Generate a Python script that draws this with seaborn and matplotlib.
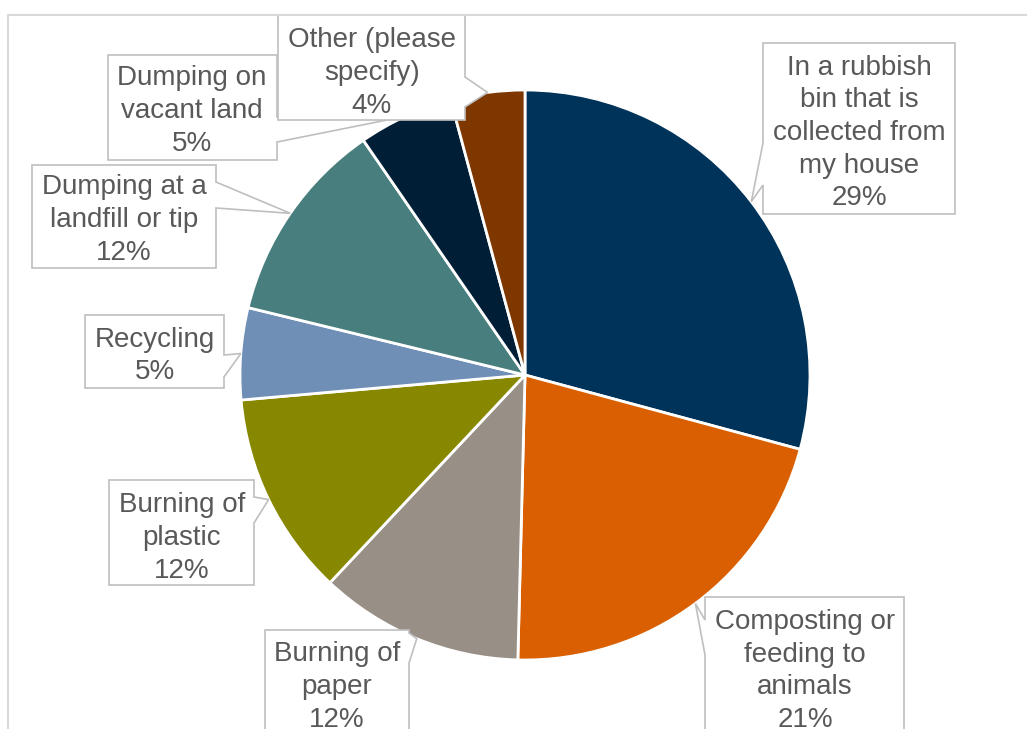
import numpy as np
import matplotlib
matplotlib.use("Agg")
import matplotlib.pyplot as plt
import seaborn as sns
from matplotlib.patches import Polygon
from matplotlib.lines import Line2D

# ---- data ----
categories = [
    "In a rubbish\nbin that is\ncollected from\nmy house",
    "Composting or\nfeeding to\nanimals",
    "Burning of\npaper",
    "Burning of\nplastic",
    "Recycling",
    "Dumping at a\nlandfill or tip",
    "Dumping on\nvacant land",
    "Other (please\nspecify)",
]
values = [29.2, 21.2, 11.6, 11.6, 5.2, 11.6, 5.4, 4.2]
colors = ["#003359", "#D95F00", "#988F86", "#878700",
          "#6F8FB6", "#487E7E", "#001E36", "#7F3700"]

# ---- layout (pixels) ----
W, H = 1027, 729
CX, CY, R = 525, 375, 285
# box x0,y0,x1,y1, text centre x,y, pointer side, pointer base y0,y1
boxes = [
    (763, 43, 955, 214, 859, 133, "left", 143, 185),
    (705, 597, 904, 780, 805, 671, "left", 620, 655),
    (265, 630, 409, 780, 337, 687, "right", 633, 663),
    (109, 480, 254, 585, 182, 538, "right", 497, 523),
    (85, 315, 224, 388, 155, 356, "right", 355, 377),
    (32, 165, 216, 268, 124, 220, "right", 182, 208),
    (108, 55, 277, 160, 192, 111, "right", 117, 142),
    (278, 15, 465, 120, 372, 73, "right", 77, 107),
]

sns.set_theme(style="white")
plt.rcParams["font.family"] = ["Liberation Sans", "DejaVu Sans"]

fig = plt.figure(figsize=(W / 100, H / 100), dpi=100)
fig.patch.set_facecolor("white")
ax = fig.add_axes([(CX - R) / W, (H - CY - R) / H, 2 * R / W, 2 * R / H])

pal = sns.color_palette(colors)
ax.pie(values, colors=pal, startangle=90, counterclock=False, radius=1,
       wedgeprops=dict(edgecolor="white", linewidth=2))
ax.set_xlim(-1, 1)
ax.set_ylim(-1, 1)
ax.set_aspect("equal")
ax.axis("off")


def d(px, py):
    return ((px - CX) / R, (CY - py) / R)


# chart-area border (light grey)
fig.add_artist(Line2D([8 / W, 1.01], [1 - 15 / H, 1 - 15 / H], color="#D9D9D9",
                      lw=1.5, transform=fig.transFigure))
fig.add_artist(Line2D([8 / W, 8 / W], [1 - 15 / H, -0.01], color="#D9D9D9",
                      lw=1.5, transform=fig.transFigure))

total = sum(values)
cum = np.cumsum(values)
for i, (lab, v) in enumerate(zip(categories, values)):
    mid = 2 * np.pi * (cum[i] - v / 2) / total
    tip = (np.sin(mid), np.cos(mid))
    x0, y0, x1, y1, tcx, tcy, side, b0, b1 = boxes[i]
    if side == "left":
        pts = [d(x0, y0), d(x1, y0), d(x1, y1), d(x0, y1), d(x0, b1), tip, d(x0, b0)]
    else:
        pts = [d(x0, y0), d(x1, y0), d(x1, b0), tip, d(x1, b1), d(x1, y1), d(x0, y1)]
    poly = Polygon(pts, closed=True, facecolor="white", edgecolor="#BFBFBF",
                   lw=1.2, clip_on=False, zorder=5 + i)
    ax.add_patch(poly)
    ax.text(*d(tcx, tcy), f"{lab}\n{v:.0f}%", ha="center", va="center",
            fontsize=20, color="#595959", linespacing=1.33, zorder=5 + i,
            clip_on=False)

fig.savefig("out.png", dpi=100, facecolor="white")
